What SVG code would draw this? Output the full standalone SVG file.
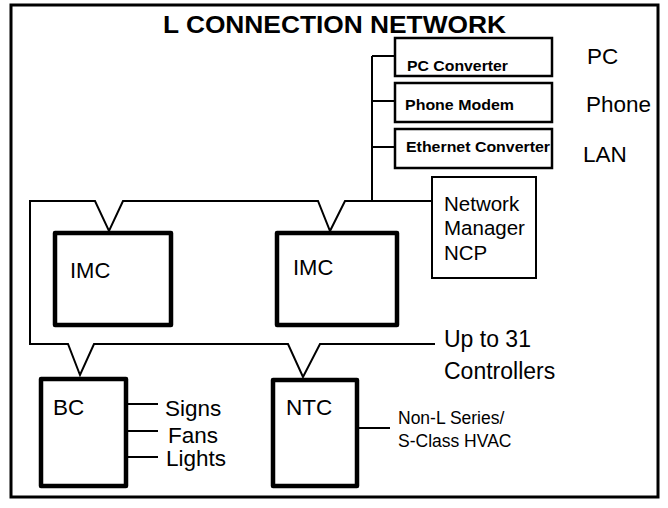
<svg xmlns="http://www.w3.org/2000/svg" width="668" height="508" viewBox="0 0 668 508">
<style>
  .t { font-family: "Liberation Sans", Arial, sans-serif; fill: #000; }
  .b { font-weight: bold; }
  .thin { fill: #fff; stroke: #000; stroke-width: 2.5; }
  .thick { fill: #fff; stroke: #000; stroke-width: 4.5; stroke-linejoin: round; }
  .ln { fill: none; stroke: #000; stroke-width: 2; stroke-linejoin: miter; }
</style>
<rect x="0" y="0" width="668" height="508" fill="#fff"/>
<rect id="frame" x="11" y="5" width="647" height="492" fill="none" stroke="#000" stroke-width="3"/>
<text class="t b" x="163" y="33" font-size="24" textLength="343" lengthAdjust="spacingAndGlyphs">L CONNECTION NETWORK</text>

<g id="connectors">
  <path class="ln" d="M372,56 V202"/>
  <path class="ln" d="M372,56 H395 M372,101 H395 M372,147 H395"/>
  <path class="ln" d="M432,201 H345 L330,231 L318,201 H123 L109,231 L95,201 H30 V344 H68 L80,375 L94,344 H288 L303,377 L320,344 H435"/>
  <path class="ln" d="M126,404 H158 M126,431 H158 M126,457 H158"/>
  <path class="ln" d="M357,428 H390"/>
</g>

<g id="pc-converter">
  <rect class="thin" x="395" y="38" width="157" height="38"/>
  <text class="t b" x="407" y="71" font-size="14.5" textLength="101" lengthAdjust="spacingAndGlyphs">PC Converter</text>
</g>
<g id="phone-modem">
  <rect class="thin" x="395" y="83" width="157" height="39"/>
  <text class="t b" x="405" y="110" font-size="14.5" textLength="109" lengthAdjust="spacingAndGlyphs">Phone Modem</text>
</g>
<g id="ethernet-converter">
  <rect class="thin" x="395" y="129" width="157" height="39"/>
  <text class="t b" x="406" y="152" font-size="14.5" textLength="144" lengthAdjust="spacingAndGlyphs">Ethernet Converter</text>
</g>
<g id="labels-right">
  <text class="t" x="587" y="64" font-size="22.5">PC</text>
  <text class="t" x="586" y="112" font-size="22.5">Phone</text>
  <text class="t" x="583" y="162" font-size="22.5">LAN</text>
</g>
<g id="network-manager">
  <rect x="432" y="177" width="104" height="101" fill="#fff" stroke="#000" stroke-width="2"/>
  <text class="t" x="444" y="211" font-size="20.5">Network</text>
  <text class="t" x="444" y="235" font-size="20.5">Manager</text>
  <text class="t" x="444" y="260" font-size="20.5">NCP</text>
</g>
<g id="imc1">
  <rect class="thick" x="55" y="233" width="116" height="92"/>
  <text class="t" x="70" y="278" font-size="22">IMC</text>
</g>
<g id="imc2">
  <rect class="thick" x="277" y="233" width="120" height="92"/>
  <text class="t" x="293" y="275" font-size="22">IMC</text>
</g>
<g id="up-to-31">
  <text class="t" x="444" y="347" font-size="23">Up to 31</text>
  <text class="t" x="444" y="379" font-size="23">Controllers</text>
</g>
<g id="bc">
  <rect class="thick" x="41" y="379" width="85" height="107"/>
  <text class="t" x="53" y="415" font-size="22.5">BC</text>
</g>
<g id="bc-outputs">
  <text class="t" x="165" y="416" font-size="22.5">Signs</text>
  <text class="t" x="168" y="443" font-size="22.5">Fans</text>
  <text class="t" x="166" y="466" font-size="22.5">Lights</text>
</g>
<g id="ntc">
  <rect class="thick" x="273" y="380" width="84" height="106"/>
  <text class="t" x="286" y="415" font-size="22.5">NTC</text>
</g>
<g id="ntc-output">
  <text class="t" x="398" y="424" font-size="17.5">Non-L Series/</text>
  <text class="t" x="398" y="447" font-size="17.5">S-Class HVAC</text>
</g>
</svg>
